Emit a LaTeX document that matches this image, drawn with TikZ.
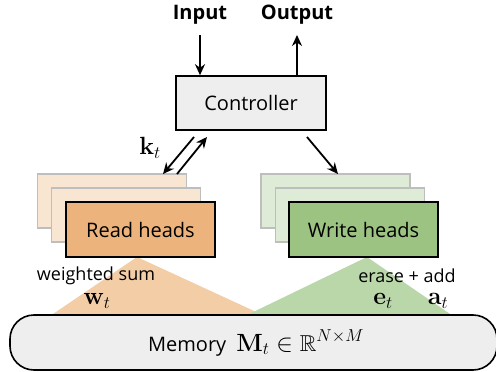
\documentclass[tikz,border=0pt]{standalone}
\usepackage{amssymb}
\usepackage[no-math]{fontspec}
\setmainfont{Open Sans}
\usetikzlibrary{arrows.meta}
\definecolor{ctrlfill}{RGB}{238,238,238}
\definecolor{readfront}{RGB}{236,180,124}
\definecolor{readback}{RGB}{248,229,210}
\definecolor{readtri}{RGB}{242,205,165}
\definecolor{writefront}{RGB}{157,195,131}
\definecolor{writeback}{RGB}{222,235,214}
\definecolor{writetri}{RGB}{186,215,170}
\definecolor{backline}{RGB}{190,190,190}
\begin{document}
\begin{tikzpicture}[x=1pt,y=-1pt,
  arr/.style={line width=1.8pt,-{Stealth[length=11pt,width=10pt]}},
  mainbox/.style={draw=black,line width=1.6pt,minimum width=149pt,minimum height=55pt,inner sep=0pt,font=\fontsize{20}{22}\selectfont},
  backbox/.style={draw=backline,line width=1.6pt,minimum width=149pt,minimum height=54pt,inner sep=0pt},
  lbl/.style={inner sep=0pt,font=\fontsize{18}{20}\selectfont},
  ttl/.style={inner sep=0pt,font=\fontsize{20}{22}\selectfont\bfseries},
  mth/.style={inner sep=0pt,font=\fontsize{23}{25}\selectfont}]
\useasboundingbox (0,0) rectangle (496,372);
% titles
\node[ttl] (inp) at (200,15) {Input};
\node[ttl] (outp) at (297,15) {Output};
% controller
\node[mainbox,fill=ctrlfill,minimum width=150pt,minimum height=54pt] (ctrl) at (251,103) {Controller};
% triangles
\coordinate (ra) at (137,257);
\coordinate (rl) at (50,316);
\coordinate (rr) at (265,316);
\coordinate (wa) at (367,257);
\coordinate (wl) at (245,316);
\coordinate (wr) at (453,316);
\fill[readtri] (ra) -- (rl) -- (rr) -- cycle;
\fill[writetri] (wa) -- (wl) -- (wr) -- cycle;
% read heads
\node[backbox,fill=readback] (rb2) at (112,201) {};
\node[backbox,fill=readback] (rb1) at (126,215) {};
\node[mainbox,fill=readfront] (rf) at (140.5,229.5) {Read heads};
% write heads
\node[backbox,fill=writeback] (wb2) at (335.5,201) {};
\node[backbox,fill=writeback] (wb1) at (350,215) {};
\node[mainbox,fill=writefront] (wf) at (363.5,229.5) {Write heads};
% memory
\draw[line width=1.6pt,fill=ctrlfill,rounded corners=24pt] (10,315) rectangle (497,370);
\node[inner sep=0pt,font=\fontsize{20}{22}\selectfont] (mem) at (256,343) {Memory\enspace{\fontsize{23}{25}\selectfont$\mathbf{M}_t\in\mathbb{R}^{N\times M}$}};
% labels
\node[lbl] (ws) at (96,276) {weighted sum};
\node[mth] (wt) at (97,301) {$\mathbf{w}_t$};
\node[lbl] (ea) at (407,276) {erase + add};
\node[mth] (et) at (383,301) {$\mathbf{e}_t$};
\node[mth] (at) at (438,301) {$\mathbf{a}_t$};
\node[mth] (kt) at (150,148) {$\mathbf{k}_t$};
% arrows
\draw[arr] (inp.south |- 0,35) -- (inp.south |- ctrl.north);
\draw[arr] (outp.south |- ctrl.north) -- (outp.south |- 0,35);
\coordinate (k1s) at (194,137);
\coordinate (k1e) at (163,174);
\coordinate (k2s) at (177,174);
\coordinate (k2e) at (207,137);
\coordinate (w1s) at (307,137);
\coordinate (w1e) at (338,174);
\draw[arr] (k1s) -- (k1e);
\draw[arr] (k2s) -- (k2e);
\draw[arr] (w1s) -- (w1e);
\end{tikzpicture}
\end{document}
